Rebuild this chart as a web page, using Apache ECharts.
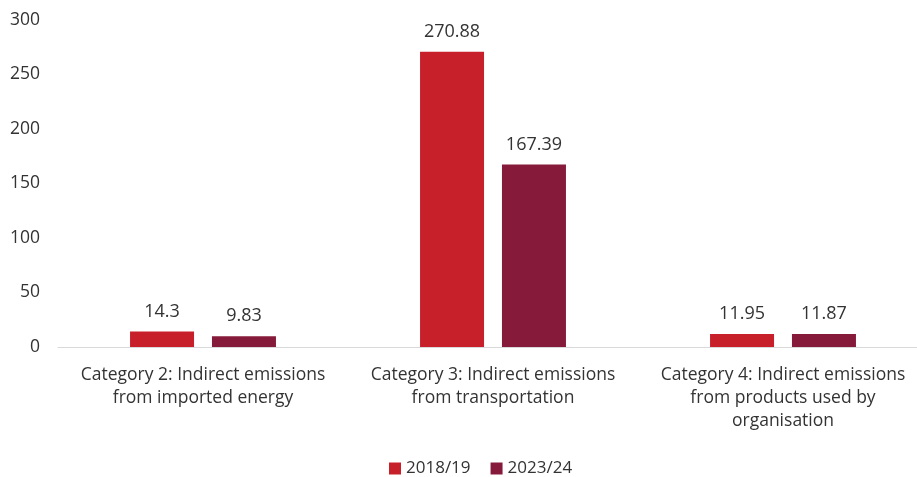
<!DOCTYPE html>
<html><head><meta charset="utf-8">
<script src="https://cdn.jsdelivr.net/npm/echarts@6/dist/echarts.min.js"></script>
<style>html,body{margin:0;padding:0;background:#fff;overflow:hidden}#c{width:932px;height:477px}</style>
</head><body><div id="c"></div>
<script>
const categories = [
  "Category 2: Indirect emissions\nfrom imported energy",
  "Category 3: Indirect emissions\nfrom transportation",
  "Category 4: Indirect emissions\nfrom products used by\norganisation"
];
const seriesNames = ["2018/19", "2023/24"];
const values2018 = [14.3, 270.88, 11.95];
const values2023 = [9.83, 167.39, 11.87];
const yTicks = [0, 50, 100, 150, 200, 250, 300];

const font = "'Open Sans', sans-serif";
const chart = echarts.init(document.getElementById('c'), null, {renderer: 'canvas'});
const label = {show: true, position: 'top', distance: 11, color: '#333', fontSize: 18, fontFamily: font};
chart.setOption({
  animation: false,
  grid: {left: 58, top: 20, width: 870, height: 327, containLabel: false},
  legend: {
    data: seriesNames, top: 455, left: 384, itemWidth: 12, itemHeight: 12, itemGap: 20,
    icon: 'rect', textStyle: {color: '#333', fontSize: 17, fontFamily: font}
  },
  xAxis: {
    type: 'category', data: categories,
    axisLine: {lineStyle: {color: '#d9d9d9', width: 1}},
    axisTick: {show: false},
    axisLabel: {color: '#333', fontSize: 17.5, fontFamily: font, lineHeight: 23, margin: 17, interval: 0}
  },
  yAxis: {
    type: 'value', min: yTicks[0], max: yTicks[yTicks.length - 1], interval: 50,
    splitLine: {show: false}, axisLine: {show: false}, axisTick: {show: false},
    axisLabel: {color: '#333', fontSize: 17.5, fontFamily: font, margin: 18}
  },
  series: [
    {name: seriesNames[0], type: 'bar', data: values2018, barWidth: 64, barGap: '28%',
     itemStyle: {color: '#C8202A'}, label: label},
    {name: seriesNames[1], type: 'bar', data: values2023, barWidth: 64,
     itemStyle: {color: '#861A3A'}, label: label}
  ]
});
</script></body></html>
